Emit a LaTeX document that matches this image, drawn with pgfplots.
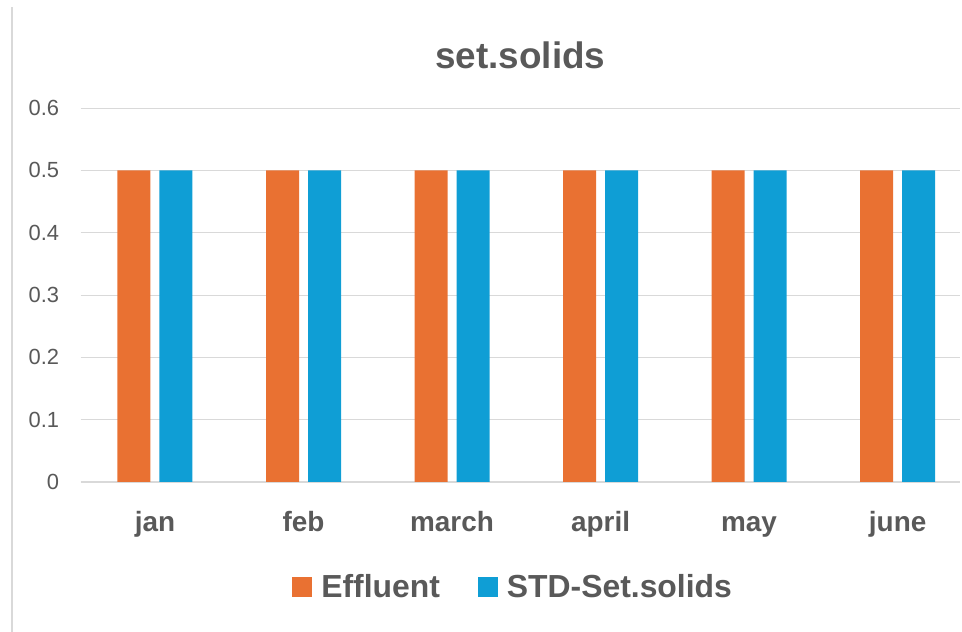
\documentclass[border=0pt]{standalone}
\usepackage{pgfplots}
\pgfplotsset{compat=1.18}
\usepackage{fontspec}
\setmainfont{Liberation Sans}
\definecolor{eff}{HTML}{E97132}
\definecolor{std}{HTML}{0F9ED5}
\definecolor{txt}{HTML}{595959}
\definecolor{grd}{HTML}{D9D9D9}
\begin{document}
\begin{tikzpicture}[x=1bp,y=1bp]
\path[use as bounding box] (0,0) rectangle (962,632);
\draw[grd, line width=1.5bp] (12,0) -- (12,625);
\begin{axis}[
  at={(80.7bp,150bp)}, anchor=south west,
  scale only axis, width=879.3bp, height=374bp,
  xmin=-0.5, xmax=5.42, ymin=0, ymax=0.6,
  ytick={0,0.1,...,0.6},
  yticklabel style={/pgf/number format/fixed, /pgf/number format/precision=1, font=\fontsize{22}{22}\selectfont, text=txt, xshift=-18bp},
  /pgf/number format/assume math mode=true,
  xtick=data, xticklabels={jan,feb,march,april,may,june},
  xticklabel style={font=\fontsize{28}{28}\selectfont\bfseries, text=txt, text height=20bp, text depth=6bp, yshift=-26bp},
  ymajorgrids, grid style={grd, line width=0.8bp},
  axis lines*=left,
  y axis line style={draw=none},
  x axis line style={grd, line width=1bp},
  major tick length=0pt,
  ybar, bar width=33bp,
  title={set.solids}, title style={font=\fontsize{37}{37}\selectfont\bfseries, text=txt, yshift=30bp},
  legend columns=2,
  legend style={at={(0.237,-0.281)}, anchor=west, draw=none, font=\fontsize{32}{32}\selectfont\bfseries, text=txt,
    /tikz/every odd column/.append style={column sep=7bp},
    /tikz/every even column/.append style={column sep=36bp}},
  legend image code/.code={\fill[#1] (0bp,-10bp) rectangle (20bp,10bp);},
  clip=false,
]
\addplot[fill=eff, draw=none, bar shift=-21bp] coordinates {(0,0.5) (1,0.5) (2,0.5) (3,0.5) (4,0.5) (5,0.5)};
\addplot[fill=std, draw=none, bar shift=21bp] coordinates {(0,0.5) (1,0.5) (2,0.5) (3,0.5) (4,0.5) (5,0.5)};
\legend{Effluent, STD-Set.solids}
\end{axis}
\end{tikzpicture}
\end{document}
